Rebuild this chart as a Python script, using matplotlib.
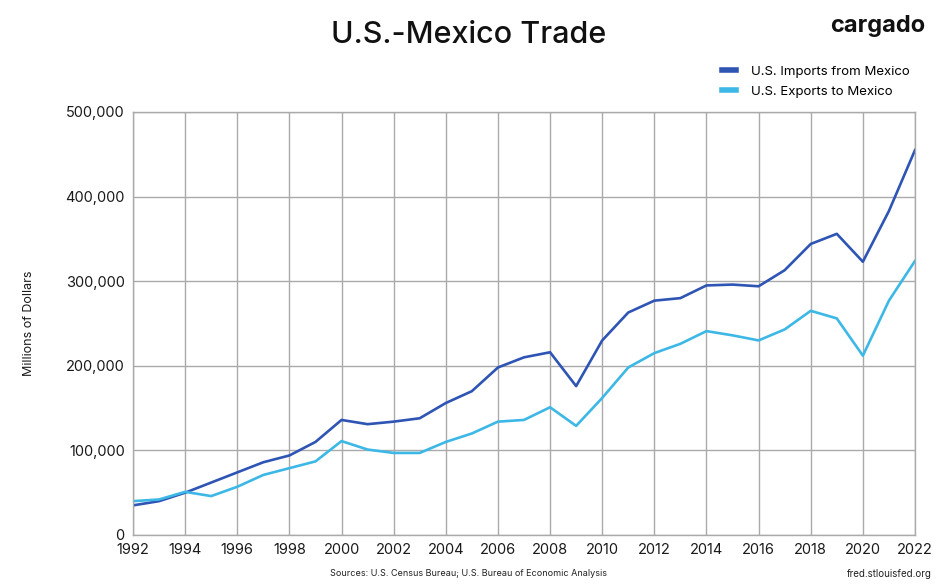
import matplotlib
matplotlib.use("Agg")
import matplotlib.pyplot as plt
from matplotlib.ticker import FuncFormatter, MultipleLocator

years = list(range(1992, 2023))
imports = [35, 40, 50, 62, 74, 86, 94, 110, 136, 131, 134, 138, 156, 170, 198, 210, 216, 176,
           230, 263, 277, 280, 295, 296, 294, 313, 344, 356, 323, 383, 455]
exports = [40, 42, 51, 46, 57, 71, 79, 87, 111, 101, 97, 97, 110, 120, 134, 136, 151, 129,
           162, 198, 215, 226, 241, 236, 230, 243, 265, 256, 212, 277, 324]
imports = [v * 1000 for v in imports]
exports = [v * 1000 for v in exports]
series_names = ["U.S. Imports from Mexico", "U.S. Exports to Mexico"]
colors = ["#2E54B4", "#3DB8E6"]

plt.rcParams['font.family'] = ['Inter', 'DejaVu Sans']

fig = plt.figure(figsize=(9.44, 5.85), dpi=100)
ax = fig.add_axes([133/944, 1 - 535/585, (915 - 133)/944, (535 - 112)/585])

l1, = ax.plot(years, imports, color=colors[0], lw=1.9, label=series_names[0])
l2, = ax.plot(years, exports, color=colors[1], lw=1.9, label=series_names[1])

ax.set_xlim(1992, 2022)
ax.set_ylim(0, 500000)
ax.xaxis.set_major_locator(MultipleLocator(2))
ax.yaxis.set_major_locator(MultipleLocator(100000))
ax.yaxis.set_major_formatter(FuncFormatter(lambda v, p: f"{int(v):,}"))
ax.grid(True, color="#aaaaaa", lw=1.0)
ax.set_axisbelow(True)
for s in ax.spines.values():
    s.set_color("#aaaaaa")
    s.set_linewidth(1.0)
ax.tick_params(length=0, labelsize=10.5, colors="#1a1a1a", pad=6)
ax.set_ylabel("Millions of Dollars", fontsize=9, color="#1a1a1a", labelpad=22)

fig.text(469/944, 1 - 35/585, "U.S.-Mexico Trade", ha="center", va="center",
         fontsize=22, fontweight="medium", color="#111111")
fig.text(925/944, 1 - 26/585, "cargado", ha="right", va="center",
         fontsize=17, fontweight="bold", color="#111111")

fig.legend(handles=[l1, l2], loc="upper right", bbox_to_anchor=(922/944, 1 - 54/585),
           frameon=False, fontsize=9.5, handlelength=1.0, handletextpad=1.2,
           labelspacing=0.55)
for line in fig.legends[0].get_lines():
    line.set_linewidth(4)

fig.text(469/944, 1 - 574/585, "Sources: U.S. Census Bureau; U.S. Bureau of Economic Analysis",
         ha="center", va="center", fontsize=6.5, color="#222222")
fig.text(932/944, 1 - 574/585, "fred.stlouisfed.org", ha="right", va="center",
         fontsize=7, color="#222222")

fig.savefig("out.png", dpi=100, facecolor="white")
